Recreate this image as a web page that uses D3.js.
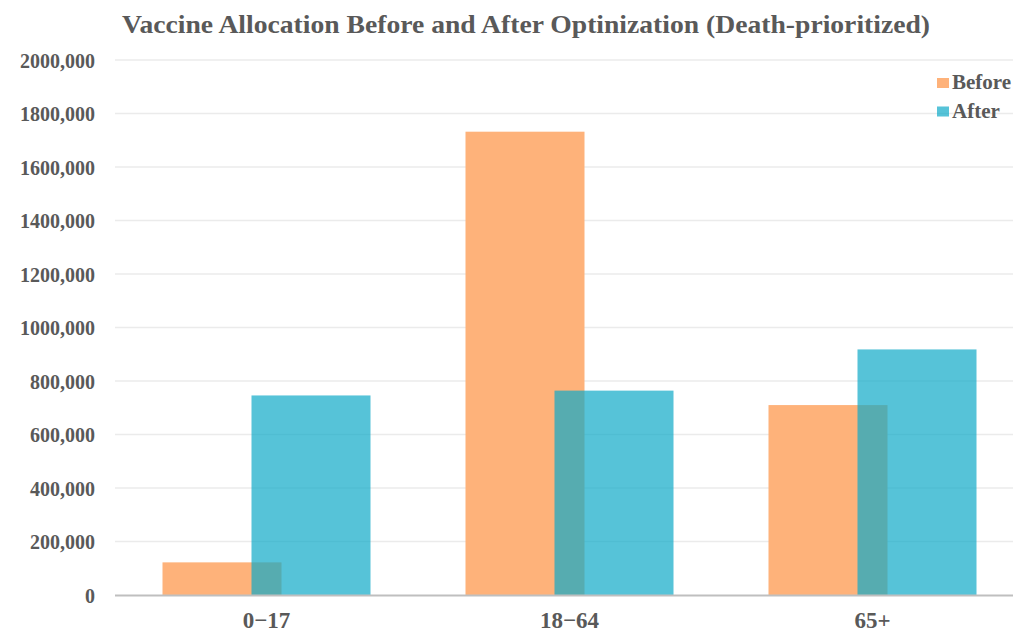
<!DOCTYPE html>
<html>
<head>
<meta charset="utf-8">
<script src="https://cdn.jsdelivr.net/npm/d3@7"></script>
<style>
  html, body { margin: 0; padding: 0; background: #fff; }
  svg { display: block; }
  text { font-family: "Liberation Serif", "Times New Roman", serif; font-weight: bold; fill: #595959; }
</style>
</head>
<body>
<svg id="chart" width="1013" height="632"></svg>
<script>
// Age groups and vaccine doses per group
const groups = ["0\u221217", "18\u221264", "65+"];
const beforeValues = [122000, 1732000, 710000];
const afterValues = [746000, 764000, 918000];
const seriesNames = ["Before", "After"];
const yTicks = [0, 200000, 400000, 600000, 800000, 1000000, 1200000, 1400000, 1600000, 1800000, 2000000];
const yTickLabels = ["0", "200,000", "400,000", "600,000", "800,000", "1000,000", "1200,000", "1400,000", "1600,000", "1800,000", "2000,000"];

const colors = { Before: "#FEB27A", After: "#0EA9C7" };
const afterOpacity = 0.7;

const svg = d3.select("#chart");
const W = 1013, H = 632;
const m = { left: 115, right: -11, top: 60, bottom: 37 };

const x = d3.scaleBand().domain(groups).range([m.left, W - m.right]);
const y = d3.scaleLinear().domain([0, 2000000]).range([H - m.bottom, m.top]);

const barW = 119;     // width of each bar
const halfSpan = 104; // distance from group centre to the outer bar edge

// gridlines
svg.append("g")
  .selectAll("line")
  .data(yTicks.slice(1))
  .join("line")
  .attr("x1", m.left).attr("x2", W)
  .attr("y1", d => y(d)).attr("y2", d => y(d))
  .attr("stroke", "#ebebeb").attr("stroke-width", 1.5);

// y axis labels
const yAxis = d3.axisLeft(y).tickValues(yTicks)
  .tickFormat((d, i) => yTickLabels[i]).tickSize(0).tickPadding(0);
const yg = svg.append("g").attr("transform", `translate(95,0)`).call(yAxis);
yg.select(".domain").remove();
yg.selectAll("text")
  .attr("font-size", 20)
  .attr("dy", "0.35em")
  .style("font-family", "'Liberation Serif', serif")
  .style("font-weight", "bold")
  .attr("fill", "#595959");

// bars
const centre = g => x(g) + x.bandwidth() / 2;
svg.append("g").selectAll("rect")
  .data(groups.map((g, i) => ({ g, v: beforeValues[i] })))
  .join("rect")
  .attr("x", d => centre(d.g) - halfSpan)
  .attr("width", barW)
  .attr("y", d => y(d.v))
  .attr("height", d => y(0) - y(d.v))
  .attr("fill", colors.Before);

svg.append("g").selectAll("rect")
  .data(groups.map((g, i) => ({ g, v: afterValues[i] })))
  .join("rect")
  .attr("x", d => centre(d.g) + halfSpan - barW)
  .attr("width", barW)
  .attr("y", d => y(d.v))
  .attr("height", d => y(0) - y(d.v))
  .attr("fill", colors.After)
  .attr("fill-opacity", afterOpacity);

// x axis
svg.append("line")
  .attr("x1", m.left).attr("x2", W)
  .attr("y1", y(0) + 0.5).attr("y2", y(0) + 0.5)
  .attr("stroke", "#bfbfbf").attr("stroke-width", 2);

const xAxis = d3.axisBottom(x).tickSize(0).tickPadding(0);
const xg = svg.append("g").attr("transform", `translate(0,${y(0)})`).call(xAxis);
xg.select(".domain").remove();
xg.selectAll("text")
  .attr("y", 33).attr("dy", 0)
  .attr("font-size", 23)
  .style("font-family", "'Liberation Serif', serif")
  .style("font-weight", "bold")
  .attr("fill", "#595959");

// title
svg.append("text")
  .attr("x", 526).attr("y", 33)
  .attr("text-anchor", "middle")
  .attr("font-size", 26)
  .attr("textLength", 808)
  .attr("lengthAdjust", "spacingAndGlyphs")
  .text("Vaccine Allocation Before and After Optinization (Death-prioritized)");

// legend
const legend = svg.append("g").attr("transform", "translate(937,78)");
seriesNames.forEach((name, i) => {
  const row = legend.append("g").attr("transform", `translate(0,${i * 28.5})`);
  row.append("rect").attr("width", 12).attr("height", 10)
    .attr("fill", colors[name])
    .attr("fill-opacity", name === "After" ? afterOpacity : 1);
  row.append("text").attr("x", 15).attr("y", 11)
    .attr("font-size", 21).text(name);
});
</script>
</body>
</html>
